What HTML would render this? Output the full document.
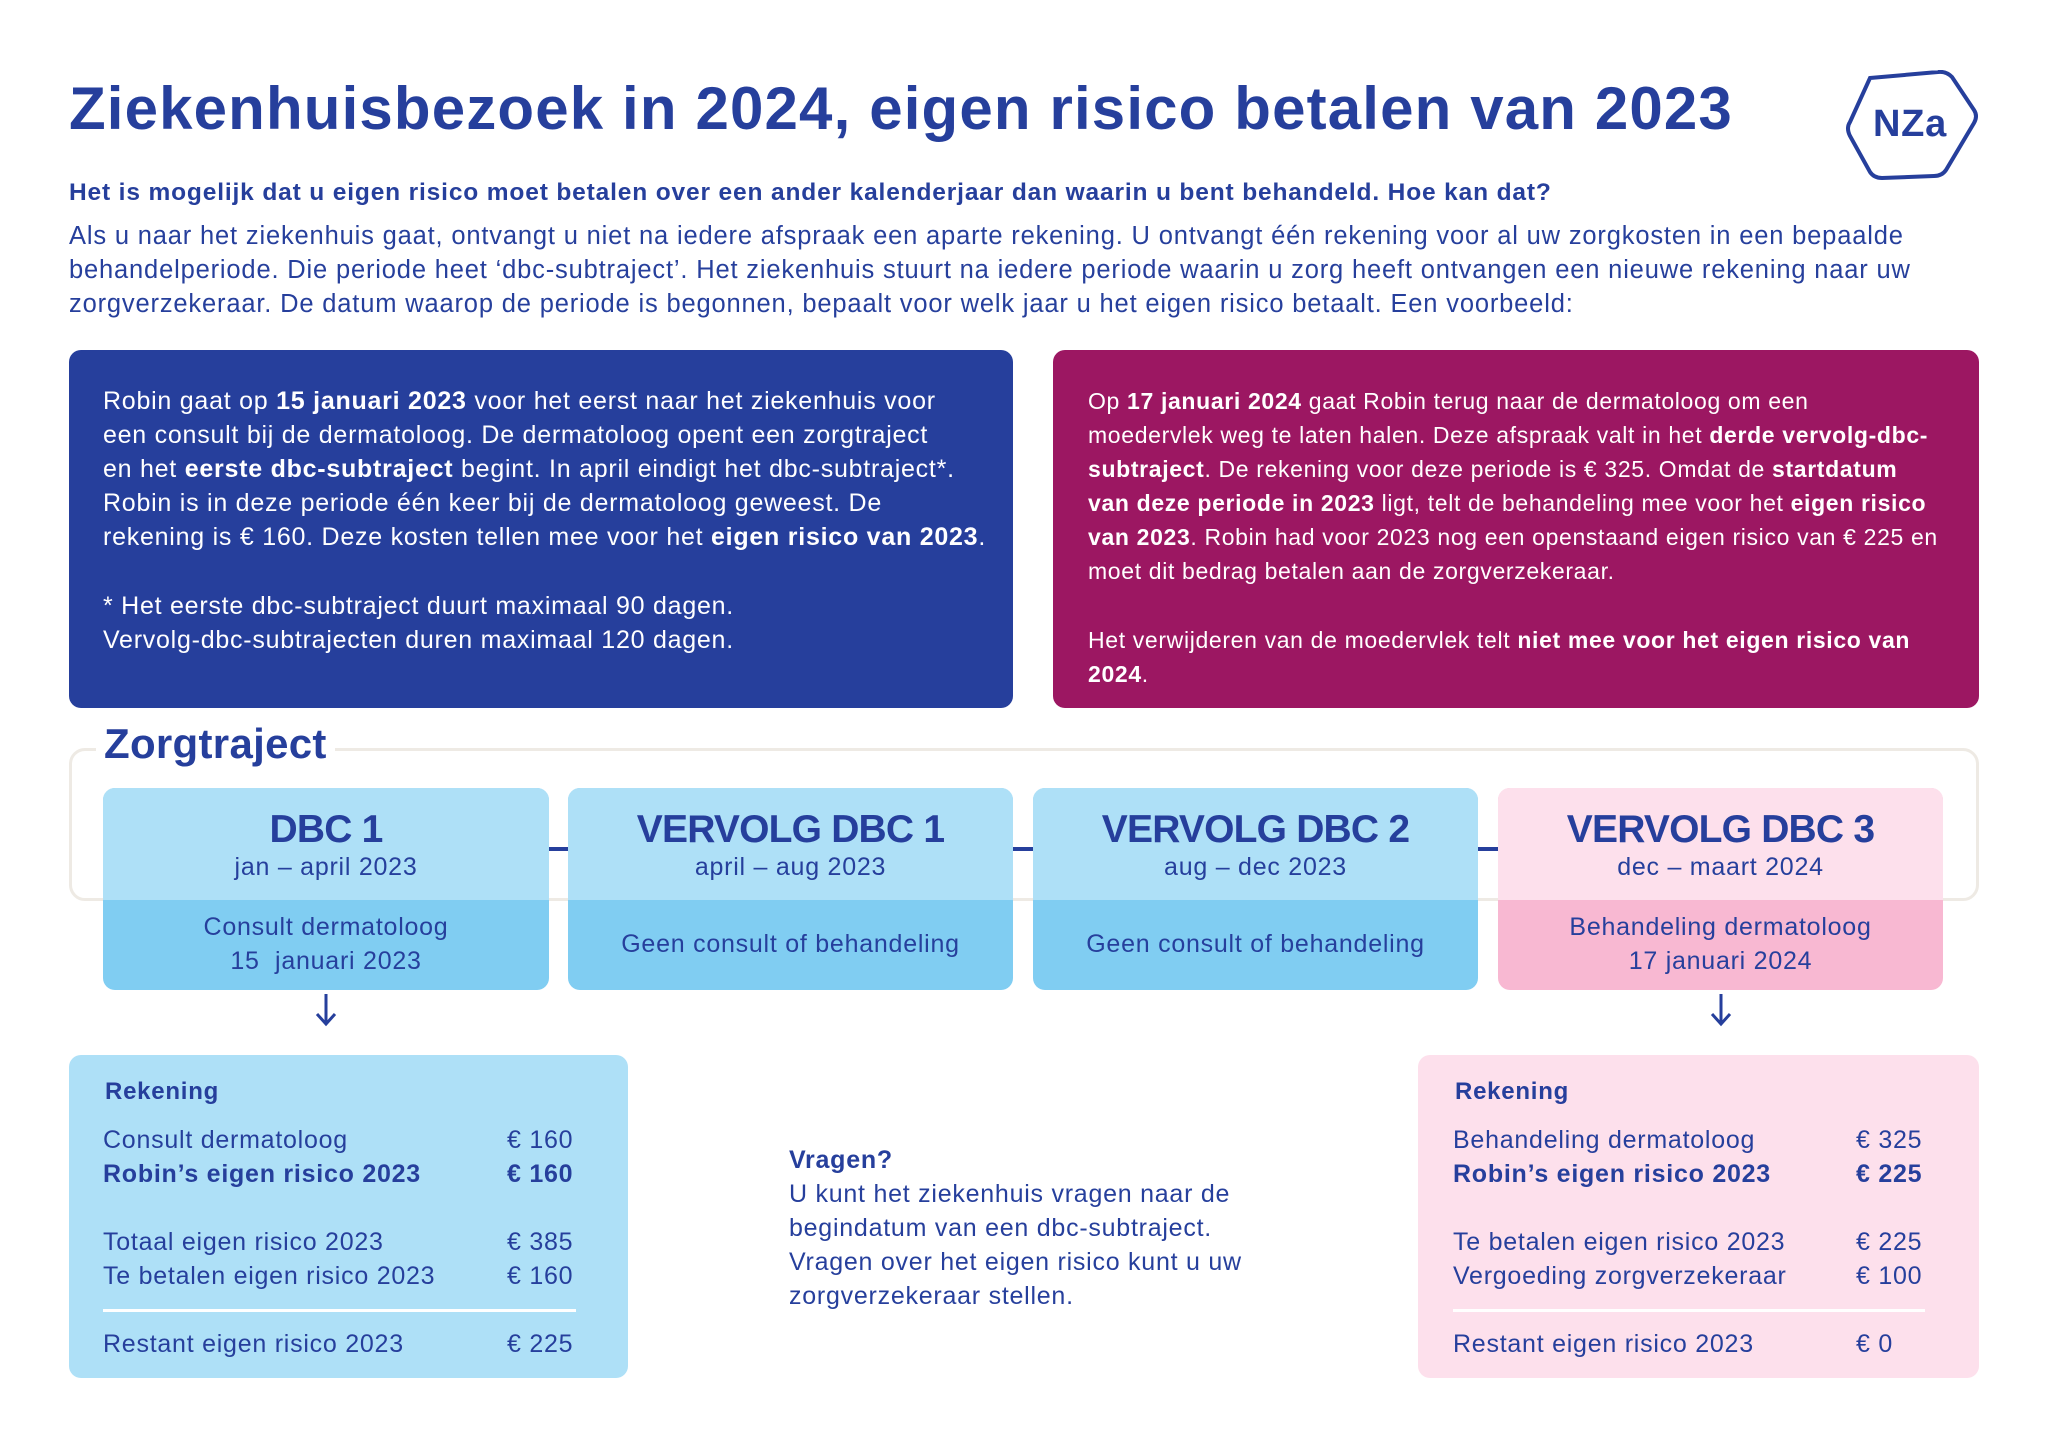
<!DOCTYPE html>
<html><head><meta charset="utf-8"><style>
*{margin:0;padding:0;box-sizing:border-box}
body{width:2048px;height:1448px;background:#fff;position:relative;font-family:"Liberation Sans",sans-serif;color:#263f9c;overflow:hidden;letter-spacing:0.75px}
.a{position:absolute;white-space:nowrap}
.t{font-size:25px;line-height:34px}
b{font-weight:bold}
.box{position:absolute;border-radius:12px}
.w{color:#fff}
.c{text-align:center}
.h{font-size:39px;font-weight:bold;line-height:50px;letter-spacing:-0.8px}
.p{font-size:23px!important;letter-spacing:0.65px}
</style></head><body>
<div class="a" style="left:69px;top:74px;font-size:60px;font-weight:bold;line-height:70px;letter-spacing:1.15px">Ziekenhuisbezoek in 2024, eigen risico betalen van 2023</div>
<svg class="a" style="left:1842px;top:70px" width="140" height="110" viewBox="0 0 140 110">
<path d="M28 8 L96 2 Q104 1 110 7 L132 40 Q136 46 132 53 L104 100 Q100 106 92 106 L40 108 Q32 108 28 102 L8 66 Q4 58 8 52 Z" fill="none" stroke="#263f9c" stroke-width="4"/>
<text x="68" y="66" text-anchor="middle" font-family="Liberation Sans" font-size="38" font-weight="bold" fill="#263f9c">NZa</text></svg>
<div class="a" style="left:69px;top:178px;font-size:24.5px;font-weight:bold;line-height:30px;letter-spacing:0.85px">Het is mogelijk dat u eigen risico moet betalen over een ander kalenderjaar dan waarin u bent behandeld. Hoe kan dat?</div>
<div class="a t" style="left:69px;top:219px;font-size:25.5px;letter-spacing:0.83px">Als u naar het ziekenhuis gaat, ontvangt u niet na iedere afspraak een aparte rekening. U ontvangt één rekening voor al uw zorgkosten in een bepaalde</div>
<div class="a t" style="left:69px;top:253px;font-size:25.5px;letter-spacing:0.83px">behandelperiode. Die periode heet ‘dbc-subtraject’. Het ziekenhuis stuurt na iedere periode waarin u zorg heeft ontvangen een nieuwe rekening naar uw</div>
<div class="a t" style="left:69px;top:287px;font-size:25.5px;letter-spacing:0.83px">zorgverzekeraar. De datum waarop de periode is begonnen, bepaalt voor welk jaar u het eigen risico betaalt. Een voorbeeld:</div>

<div class="box" style="left:69px;top:350px;width:944px;height:358px;background:#263f9c"></div>
<div class="box" style="left:1053px;top:350px;width:926px;height:358px;background:#9c1762"></div>
<div class="w">
<div class="a t" style="left:103px;top:384px">Robin gaat op <b>15 januari 2023</b> voor het eerst naar het ziekenhuis voor</div>
<div class="a t" style="left:103px;top:418px">een consult bij de dermatoloog. De dermatoloog opent een zorgtraject</div>
<div class="a t" style="left:103px;top:452px">en het <b>eerste dbc-subtraject</b> begint. In april eindigt het dbc-subtraject*.</div>
<div class="a t" style="left:103px;top:486px">Robin is in deze periode één keer bij de dermatoloog geweest. De</div>
<div class="a t" style="left:103px;top:520px">rekening is € 160. Deze kosten tellen mee voor het <b>eigen risico van 2023</b>.</div>
<div class="a t" style="left:103px;top:589px">* Het eerste dbc-subtraject duurt maximaal 90 dagen.</div>
<div class="a t" style="left:103px;top:623px">Vervolg-dbc-subtrajecten duren maximaal 120 dagen.</div>
<div class="a t p" style="left:1088px;top:384px">Op <b>17 januari 2024</b> gaat Robin terug naar de dermatoloog om een</div>
<div class="a t p" style="left:1088px;top:418px">moedervlek weg te laten halen. Deze afspraak valt in het <b>derde vervolg-dbc-</b></div>
<div class="a t p" style="left:1088px;top:452px"><b>subtraject</b>. De rekening voor deze periode is € 325. Omdat de <b>startdatum</b></div>
<div class="a t p" style="left:1088px;top:486px"><b>van deze periode in 2023</b> ligt, telt de behandeling mee voor het <b>eigen risico</b></div>
<div class="a t p" style="left:1088px;top:520px"><b>van 2023</b>. Robin had voor 2023 nog een openstaand eigen risico van € 225 en</div>
<div class="a t p" style="left:1088px;top:554px">moet dit bedrag betalen aan de zorgverzekeraar.</div>
<div class="a t p" style="left:1088px;top:623px">Het verwijderen van de moedervlek telt <b>niet mee voor het eigen risico van</b></div>
<div class="a t p" style="left:1088px;top:657px"><b>2024</b>.</div>
</div>

<div class="box" style="left:69px;top:748px;width:1910px;height:153px;border:3px solid #eeeae4;border-radius:16px"></div>
<div class="a" style="left:96px;top:717px;padding:0 8px;background:#fff;font-size:42px;font-weight:bold;line-height:54px;letter-spacing:0.3px">Zorgtraject</div>

<div class="a" style="left:545px;top:847px;width:30px;height:4px;background:#263f9c"></div>
<div class="a" style="left:1010px;top:847px;width:30px;height:4px;background:#263f9c"></div>
<div class="a" style="left:1475px;top:847px;width:30px;height:4px;background:#263f9c"></div>

<div class="box" style="left:103px;top:788px;width:446px;height:202px;background:#80cdf2;overflow:hidden"><div style="height:112px;background:#aee0f7"></div></div>
<div class="box" style="left:568px;top:788px;width:445px;height:202px;background:#80cdf2;overflow:hidden"><div style="height:112px;background:#aee0f7"></div></div>
<div class="box" style="left:1033px;top:788px;width:445px;height:202px;background:#80cdf2;overflow:hidden"><div style="height:112px;background:#aee0f7"></div></div>
<div class="box" style="left:1498px;top:788px;width:445px;height:202px;background:#f8b8d2;overflow:hidden"><div style="height:112px;background:#fde0ec"></div></div>

<div class="a c h" style="left:103px;top:805px;width:446px">DBC 1</div>
<div class="a c h" style="left:568px;top:805px;width:445px">VERVOLG DBC 1</div>
<div class="a c h" style="left:1033px;top:805px;width:445px">VERVOLG DBC 2</div>
<div class="a c h" style="left:1498px;top:805px;width:445px">VERVOLG DBC 3</div>
<div class="a c t" style="left:103px;top:850px;width:446px">jan – april 2023</div>
<div class="a c t" style="left:568px;top:850px;width:445px">april – aug 2023</div>
<div class="a c t" style="left:1033px;top:850px;width:445px">aug – dec 2023</div>
<div class="a c t" style="left:1498px;top:850px;width:445px">dec – maart 2024</div>
<div class="a c t" style="left:103px;top:910px;width:446px">Consult dermatoloog<br>15 &nbsp;januari 2023</div>
<div class="a c t" style="left:568px;top:927px;width:445px">Geen consult of behandeling</div>
<div class="a c t" style="left:1033px;top:927px;width:445px">Geen consult of behandeling</div>
<div class="a c t" style="left:1498px;top:910px;width:445px">Behandeling dermatoloog<br>17 januari 2024</div>

<svg class="a" style="left:312px;top:992px" width="28" height="36"><path d="M14 2 V32 M5 22 L14 32 L23 22" fill="none" stroke="#263f9c" stroke-width="3"/></svg>
<svg class="a" style="left:1707px;top:992px" width="28" height="36"><path d="M14 2 V32 M5 22 L14 32 L23 22" fill="none" stroke="#263f9c" stroke-width="3"/></svg>

<div class="box" style="left:69px;top:1055px;width:559px;height:323px;background:#aee0f7"></div>
<div class="box" style="left:1418px;top:1055px;width:561px;height:323px;background:#fde0ec"></div>
<div class="a t" style="left:105px;top:1075px;font-weight:bold;font-size:24px">Rekening</div>
<div class="a t" style="left:103px;top:1123px">Consult dermatoloog</div><div class="a t" style="left:507px;top:1123px">€ 160</div>
<div class="a t" style="left:103px;top:1157px"><b>Robin’s eigen risico 2023</b></div><div class="a t" style="left:507px;top:1157px"><b>€ 160</b></div>
<div class="a t" style="left:103px;top:1225px">Totaal eigen risico 2023</div><div class="a t" style="left:507px;top:1225px">€ 385</div>
<div class="a t" style="left:103px;top:1259px">Te betalen eigen risico 2023</div><div class="a t" style="left:507px;top:1259px">€ 160</div>
<div class="a" style="left:103px;top:1309px;width:473px;height:3px;background:#fff"></div>
<div class="a t" style="left:103px;top:1327px">Restant eigen risico 2023</div><div class="a t" style="left:507px;top:1327px">€ 225</div>

<div class="a t" style="left:1455px;top:1075px;font-weight:bold;font-size:24px">Rekening</div>
<div class="a t" style="left:1453px;top:1123px">Behandeling dermatoloog</div><div class="a t" style="left:1856px;top:1123px">€ 325</div>
<div class="a t" style="left:1453px;top:1157px"><b>Robin’s eigen risico 2023</b></div><div class="a t" style="left:1856px;top:1157px"><b>€ 225</b></div>
<div class="a t" style="left:1453px;top:1225px">Te betalen eigen risico 2023</div><div class="a t" style="left:1856px;top:1225px">€ 225</div>
<div class="a t" style="left:1453px;top:1259px">Vergoeding zorgverzekeraar</div><div class="a t" style="left:1856px;top:1259px">€ 100</div>
<div class="a" style="left:1453px;top:1309px;width:472px;height:3px;background:#fff"></div>
<div class="a t" style="left:1453px;top:1327px">Restant eigen risico 2023</div><div class="a t" style="left:1856px;top:1327px">€ 0</div>

<div class="a t" style="left:789px;top:1143px;font-weight:bold">Vragen?</div>
<div class="a t" style="left:789px;top:1177px">U kunt het ziekenhuis vragen naar de</div>
<div class="a t" style="left:789px;top:1211px">begindatum van een dbc-subtraject.</div>
<div class="a t" style="left:789px;top:1245px">Vragen over het eigen risico kunt u uw</div>
<div class="a t" style="left:789px;top:1279px">zorgverzekeraar stellen.</div>
</body></html>
